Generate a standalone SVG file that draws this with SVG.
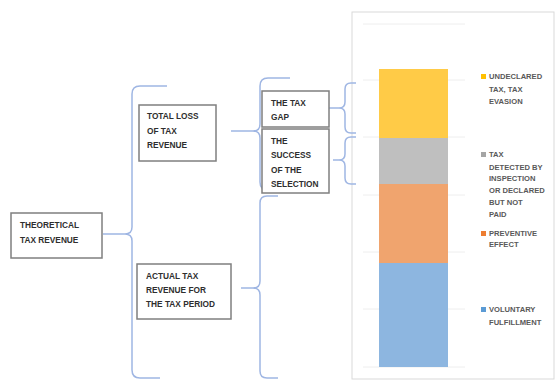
<svg xmlns="http://www.w3.org/2000/svg" width="555" height="380" viewBox="0 0 555 380">
<style>
.box{fill:#fff;stroke:#7f7f7f;stroke-width:1.5}
.brace{fill:none;stroke:#9fb6e3;stroke-width:1.5}
.t{font-family:"Liberation Sans",Arial,sans-serif;font-weight:bold;font-size:8.3px;fill:#2e2e2e}
.lg{font-family:"Liberation Sans",Arial,sans-serif;font-weight:bold;font-size:7.6px;fill:#595959}
.grid{stroke:#eeeeee;stroke-width:1}
</style>
<rect width="555" height="380" fill="#fff"/>
<g id="chart">
<rect x="352" y="12" width="202" height="367" fill="#fff" stroke="#d9d9d9" stroke-width="1"/>
<g class="grid">
<line x1="363" y1="24" x2="465" y2="24"/>
<line x1="363" y1="80" x2="465" y2="80"/>
<line x1="363" y1="137" x2="465" y2="137"/>
<line x1="363" y1="195" x2="465" y2="195"/>
<line x1="363" y1="252" x2="465" y2="252"/>
<line x1="363" y1="309" x2="465" y2="309"/>
<line x1="363" y1="367" x2="465" y2="367"/>
</g>
<rect x="379" y="69" width="69" height="69" fill="#ffcb47"/>
<rect x="379" y="138" width="69" height="46" fill="#bfbfbf"/>
<rect x="379" y="184" width="69" height="79" fill="#f0a46e"/>
<rect x="379" y="263" width="69" height="104" fill="#8db6e0"/>
<g id="legend">
<rect x="481" y="74" width="5" height="5" fill="#ffc000"/>
<text class="lg" x="489" y="79">UNDECLARED</text>
<text class="lg" x="489" y="92">TAX, TAX</text>
<text class="lg" x="489" y="104">EVASION</text>
<rect x="481" y="152" width="5" height="5" fill="#a5a5a5"/>
<text class="lg" x="489" y="157">TAX</text>
<text class="lg" x="489" y="169.5">DETECTED BY</text>
<text class="lg" x="489" y="181">INSPECTION</text>
<text class="lg" x="489" y="193">OR DECLARED</text>
<text class="lg" x="489" y="205">BUT NOT</text>
<text class="lg" x="489" y="217">PAID</text>
<rect x="481" y="231" width="5" height="5" fill="#ed7d31"/>
<text class="lg" x="489" y="236">PREVENTIVE</text>
<text class="lg" x="489" y="247">EFFECT</text>
<rect x="481" y="307" width="5" height="5" fill="#5b9bd5"/>
<text class="lg" x="489" y="312">VOLUNTARY</text>
<text class="lg" x="489" y="325">FULFILLMENT</text>
</g>
</g>
<g id="connectors">
<path class="brace" d="M103,234 H125 Q132,234 132,227 V94 Q132,86 140,86 H167 M125,234 Q132,234 132,241 V370 Q132,378 140,378 H160"/>
<path class="brace" d="M231,131 H253 Q260,131 260,124 V86 Q260,78 268,78 H290 M253,131 Q260,131 260,138 V182 Q260,190 268,190"/>
<path class="brace" d="M241,288 H253 Q260,288 260,281 V203 Q260,196 267,196 H278 M253,288 Q260,288 260,295 V371 Q260,378 267,378 H278"/>
<path class="brace" d="M329,108 H339 Q345,108 345,102 V89 Q345,83 351,83 H356 M339,108 Q345,108 345,114 V127 Q345,133 351,133 H356"/>
<path class="brace" d="M333,160 H339 Q345,160 345,154 V143 Q345,137 351,137 H356 M339,160 Q345,160 345,166 V178 Q345,184 351,184 H356"/>
</g>
<g id="theoretical">
<rect class="box" x="11" y="213" width="91" height="45"/>
<text class="t" x="20" y="228">THEORETICAL</text>
<text class="t" x="20" y="243">TAX REVENUE</text>
</g>
<g id="total-loss">
<rect class="box" x="139" y="105" width="77" height="56"/>
<text class="t" x="147" y="119">TOTAL LOSS</text>
<text class="t" x="147" y="133.5">OF TAX</text>
<text class="t" x="147" y="148">REVENUE</text>
</g>
<g id="actual">
<rect class="box" x="137" y="264" width="94" height="55"/>
<text class="t" x="146" y="279">ACTUAL TAX</text>
<text class="t" x="146" y="293">REVENUE FOR</text>
<text class="t" x="146" y="307">THE TAX PERIOD</text>
</g>
<g id="tax-gap">
<rect class="box" x="262" y="91" width="67" height="36"/>
<text class="t" x="271" y="106">THE TAX</text>
<text class="t" x="271" y="120">GAP</text>
</g>
<g id="success">
<rect class="box" x="262" y="129" width="67" height="64"/>
<text class="t" x="271" y="144">THE</text>
<text class="t" x="271" y="158">SUCCESS</text>
<text class="t" x="271" y="173">OF THE</text>
<text class="t" x="271" y="187">SELECTION</text>
</g>
</svg>
